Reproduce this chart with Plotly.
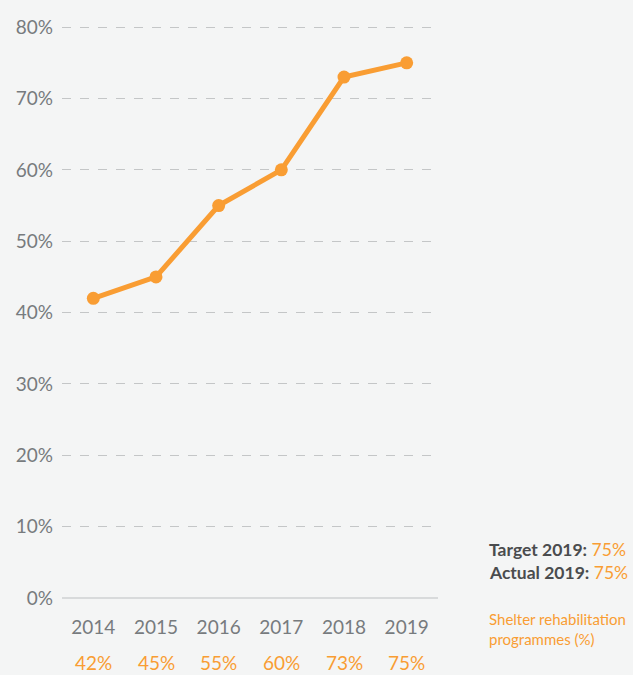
import plotly.graph_objects as go

years = ["2014", "2015", "2016", "2017", "2018", "2019"]
values = [42, 45, 55, 60, 73, 75]
y_ticks = [0, 10, 20, 30, 40, 50, 60, 70, 80]
y_tick_labels = [f"{v}%" for v in y_ticks]
target_2019 = 75
actual_2019 = 75
series_name = "Shelter rehabilitation<br>programmes (%)"

ORANGE = "#f99d33"
GRAY = "#777b7e"
BG = "#f4f5f5"
FONT = "Lato, Open Sans, sans-serif"

fig = go.Figure()
fig.add_trace(go.Scatter(
    x=years, y=values, mode="lines+markers",
    line=dict(color=ORANGE, width=5),
    marker=dict(color=ORANGE, size=13),
    hoverinfo="x+y", showlegend=False,
))

annotations = []
for i, v in enumerate(values):
    annotations.append(dict(
        x=i, xref="x", y=-0.112, yref="paper", text=f"{v}%",
        showarrow=False, font=dict(family=FONT, size=19, color=ORANGE),
        xanchor="center", yanchor="middle",
    ))

annotations += [
    dict(x=1.13, xref="paper", y=0.084, yref="paper", xanchor="left", yanchor="middle",
         text=f"<b>Target 2019:</b> <span style='color:{ORANGE}'>{target_2019}%</span>",
         showarrow=False, font=dict(family=FONT, size=17.5, color="#4a4c4e")),
    dict(x=1.13, xref="paper", y=0.045, yref="paper", xanchor="left", yanchor="middle",
         text=f"<b>Actual 2019:</b> <span style='color:{ORANGE}'>{actual_2019}%</span>",
         showarrow=False, font=dict(family=FONT, size=17.5, color="#4a4c4e")),
    dict(x=1.13, xref="paper", y=-0.054, yref="paper", xanchor="left", yanchor="middle",
         align="left", text=series_name,
         showarrow=False, font=dict(family=FONT, size=15, color=ORANGE)),
]

fig.update_layout(
    width=633, height=675,
    margin=dict(l=62, r=195, t=25, b=77),
    paper_bgcolor=BG, plot_bgcolor=BG,
    font=dict(family=FONT, color=GRAY),
    xaxis=dict(
        type="category", range=[-0.5, 5.5], showgrid=False, zeroline=False,
        showline=False, ticks="", tickfont=dict(size=19, color=GRAY),
        ticklabelstandoff=16, fixedrange=True,
    ),
    yaxis=dict(
        range=[0, 80.3], tickvals=y_ticks, ticktext=y_tick_labels,
        showgrid=True, gridcolor="#c4c6c7", griddash="dash", gridwidth=1,
        zeroline=True, zerolinecolor="#d8dadb", zerolinewidth=2,
        showline=False, ticks="", tickfont=dict(size=19, color=GRAY),
        ticklabelstandoff=8, fixedrange=True,
    ),
    annotations=annotations,
)

fig.write_html(
    "out.html",
    config={"displayModeBar": False},
    post_script="document.body.style.margin='0';document.body.style.background='#f4f5f5';",
)
